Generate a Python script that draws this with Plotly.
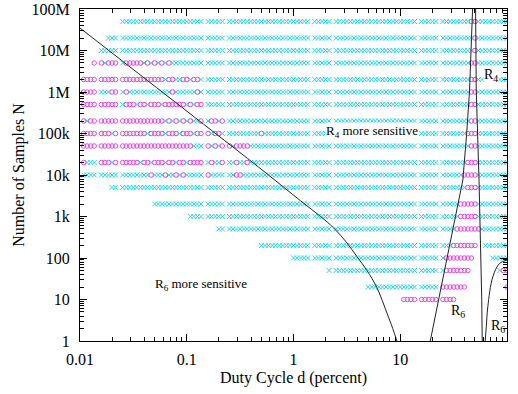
import plotly.graph_objects as go

# ---------------- data ----------------
# duty-cycle grid (mantissas within one decade, percent)
d_mantissa = [1.000, 1.080, 1.166, 1.259, 1.359, 1.585, 1.711, 1.848, 1.995, 2.154,
              2.512, 2.712, 2.929, 3.162, 3.415, 3.687, 3.981, 4.299, 4.642, 5.012,
              5.412, 5.843, 6.310, 6.813, 7.356, 7.943, 8.577, 9.261]
d_decades = [0.01, 0.1, 1, 10]
d_last = [100]

rows_N = [5e7, 2e7, 1e7, 5e6, 2e6, 1e6, 5e5, 2e5, 1e5, 5e4, 2e4, 1e4,
          5e3, 2e3, 1e3, 500, 200, 100, 50, 20, 10]
row_start = [0.025, 0.0185, 0.0158, 0.0136, 0.0108, 0.0108, 0.0108, 0.0108, 0.0108,
             0.0108, 0.0108, 0.0108, 0.0199, 0.0501, 0.108, 0.2, 0.5, 1.0, 2.15, 5.0, 10.8]
row_end = [100] * 20 + [31.7]
# explicit o/x sequence at the left end of the row ('|' = visual grid gap, ignored)
row_left = ["", "", "",
            "o|oxooo|xoooooxoxoxoxoxxxx",
            "oooo|ooooo|ooooooooooooxooxxo|oxoox|xxxxx",
            "oooo|xxxoo|xoxxxxxxxxxxxxoxxx|xxxox",
            "oooo|ooooo|xoooxooxoooxoooooo|xoxoo|xxxxx",
            "oxoo|ooooo|ooooooooooooxoxoxo|xoxxo|xooxo",
            "oooo|oooxo|oooooooxooooxoooxo|ooxoo|oxoox|xxxxxxxxxoxxxxxxxx",
            "oooo|ooooo|oooooooooooooooooo|ooxxx|oxoxo|oxooooxxxxxxxxxxxx",
            "oxxx|oooxo|oooooxooxoooxooxoo|xoooo|xoxxo|xxoxxoxxxxxxxxxxxx",
            "xxxx|xxxxx|xxxxxxxxoxxxoxxoxo|xxxxx|oxxxx|xxooxxxxxxxxxxxxxx",
            "", "", "", "", "", "", "", "", ""]
# ranges (percent) where the row's markers are circles
row_circles = [[(45, 51)], [(49, 51)], [(49, 51)], [(45, 51)], [(45, 51)], [(45, 51)],
               [(45, 51)], [(45, 51)], [(42, 51)], [(45, 51)], [(42, 51)], [(39, 51)],
               [(42, 51)], [(36, 51)], [(36, 51)], [(34, 55)], [(31, 51)], [(27, 47)],
               [(27, 44), (92, 101)], [(25, 40), (99, 101)], [(10, 32)]]
# ranges with no marker
row_blank = [[]] * 16 + [[(52, 62)], [(48, 72)], [(45, 84)], [(41, 98)], []]

# boundary curves (duty cycle %, N)
curveA_d = [0.01, 0.0352, 0.172, 0.471, 1.163, 1.79, 2.38, 3.17, 3.94, 4.88, 6.06, 7.51, 8.5, 9.3]
curveA_N = [3.48e7, 2.8e6, 1.17e5, 1.55e4, 2.4e3, 1.0e3, 530, 230, 107, 50, 19, 4.7, 2.0, 1.0]
curveB_d = [19.1, 23.4, 28.2, 33.0, 38.6, 41.8, 44.6, 47.6, 49.2, 50.8, 51.5, 54.7, 56.9, 58.0, 58.6]
curveB_N = [1.0, 12.8, 155, 1.1e3, 7.6e3, 9.1e4, 1.1e6, 1e8, 1e10, 1e8, 1.12e6, 7.6e3, 155, 9.7, 1.0]
curveC_d = [62.5, 64.0, 66.1, 73.6, 85.2, 100]
curveC_N = [1.0, 2.2, 6.7, 35, 74, 89]

x_tick_vals = [0.01, 0.1, 1, 10, 100]
x_tick_text = ["0.01", "0.1", "1", "10", "100"]
y_tick_vals = [1, 10, 100, 1e3, 1e4, 1e5, 1e6, 1e7, 1e8]
y_tick_text = ["1", "10", "100", "1k", "10k", "100k", "1M", "10M", "100M"]

# ---------------- build marker lists ----------------
d_grid = sorted([m * dec for dec in d_decades for m in d_mantissa] + d_last)


def in_ranges(d, ranges):
    return any(lo <= d <= hi for lo, hi in ranges)


xs_x, ys_x, xs_o, ys_o = [], [], [], []
for i, N in enumerate(rows_N):
    pts = [d for d in d_grid
           if row_start[i] * 0.995 <= d <= row_end[i] * 1.005 and not in_ranges(d, row_blank[i])]
    pattern = row_left[i].replace("|", "")
    for j, d in enumerate(pts):
        if j < len(pattern):
            sym = pattern[j]
        else:
            sym = "o" if in_ranges(d, row_circles[i]) else "x"
        if sym == "o":
            xs_o.append(d); ys_o.append(N)
        else:
            xs_x.append(d); ys_x.append(N)

CYAN = "#2ad6ea"
MAG = "#e04fe0"
FONT = "Liberation Serif, Times New Roman, serif"

fig = go.Figure()
fig.add_trace(go.Scatter(x=xs_x, y=ys_x, mode="markers",
                         marker=dict(symbol="x-thin", size=5, color=CYAN,
                                     line=dict(width=1, color=CYAN)),
                         hoverinfo="skip"))
fig.add_trace(go.Scatter(x=xs_o, y=ys_o, mode="markers",
                         marker=dict(symbol="circle-open", size=4.5, color=MAG,
                                     line=dict(width=1, color=MAG)),
                         hoverinfo="skip"))
for cd, cn, shape in [(curveA_d, curveA_N, "spline"), (curveB_d, curveB_N, "linear"),
                      (curveC_d, curveC_N, "spline")]:
    fig.add_trace(go.Scatter(x=cd, y=cn, mode="lines",
                             line=dict(color="#222222", width=1, shape=shape),
                             hoverinfo="skip"))

minor_x = [m * dec for dec in [0.01, 0.1, 1, 10] for m in range(2, 10)]
minor_y = [m * 10 ** e for e in range(8) for m in range(2, 10)]

axis_common = dict(type="log", showline=True, linecolor="black", linewidth=1,
                   mirror="allticks", ticks="inside", ticklen=7, tickwidth=1,
                   tickcolor="black", showgrid=False, zeroline=False,
                   tickfont=dict(family=FONT, size=16, color="black"),
                   automargin=False)

fig.update_layout(
    template="none",
    width=518, height=394,
    margin=dict(l=80, r=11, t=9, b=53),
    paper_bgcolor="white", plot_bgcolor="white",
    showlegend=False,
    xaxis=dict(**axis_common, range=[-2, 2], tickmode="array",
               tickvals=x_tick_vals, ticktext=x_tick_text, ticklabelstandoff=4,
               minor=dict(tickmode="array", tickvals=minor_x, ticks="inside",
                          ticklen=4, tickcolor="black", showgrid=False),
               title=dict(text="Duty Cycle d (percent)", standoff=4,
                          font=dict(family=FONT, size=16, color="black"))),
    yaxis=dict(**axis_common, range=[0, 8], tickmode="array",
               tickvals=y_tick_vals, ticktext=y_tick_text, ticklabelstandoff=6,
               minor=dict(tickmode="array", tickvals=minor_y, ticks="inside",
                          ticklen=4, tickcolor="black", showgrid=False),
               title=dict(text="Number of Samples N", standoff=2,
                          font=dict(family=FONT, size=16, color="black"))),
)

ann_font = dict(family=FONT, size=13, color="black")
fig.add_annotation(x=0.738, y=5.06, xref="x", yref="y", text="R<sub>4</sub> more sensitive",
                   showarrow=False, font=ann_font, bgcolor="white", borderpad=0)
fig.add_annotation(x=-0.864, y=1.373, xref="x", yref="y", text="R<sub>6</sub> more sensitive",
                   showarrow=False, font=ann_font)
fig.add_annotation(x=1.846, y=6.386, xref="x", yref="y", text="R<sub>4</sub>",
                   showarrow=False, font=dict(family=FONT, size=14, color="black"),
                   bgcolor="white", borderpad=0)
fig.add_annotation(x=1.542, y=0.723, xref="x", yref="y", text="R<sub>6</sub>",
                   showarrow=False, font=dict(family=FONT, size=14, color="black"))
fig.add_annotation(x=1.911, y=0.361, xref="x", yref="y", text="R<sub>6</sub>",
                   showarrow=False, font=dict(family=FONT, size=14, color="black"))

fig.write_html("out.html", config={"displayModeBar": False},
               post_script="document.body.style.margin='0';")
